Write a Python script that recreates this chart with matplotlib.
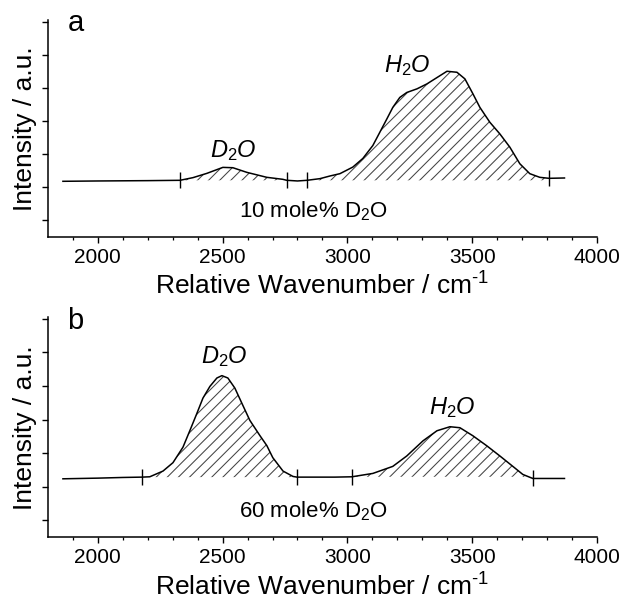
import matplotlib
matplotlib.use("Agg")
import matplotlib.pyplot as plt
import numpy as np

plt.rcParams['font.family'] = ['Liberation Sans', 'DejaVu Sans']
plt.rcParams['mathtext.fontset'] = 'custom'
plt.rcParams['mathtext.rm'] = 'Liberation Sans'
plt.rcParams['mathtext.it'] = 'Liberation Sans:italic'
plt.rcParams['hatch.linewidth'] = 0.75

# panel a: 10 mole% D2O
wn_a = [1860, 2000, 2200, 2329, 2381, 2437, 2501, 2541, 2597, 2677, 2741, 2757,
        2800, 2838, 2890, 2930, 2970, 3022, 3062, 3102, 3130, 3158, 3182, 3210,
        3238, 3279, 3319, 3359, 3399, 3439, 3471, 3503, 3531, 3571, 3611, 3651,
        3691, 3731, 3771, 3808, 3870]
int_a = [1.68, 1.69, 1.70, 1.71, 1.79, 1.92, 2.10, 2.09, 1.95, 1.80, 1.74, 1.71,
         1.69, 1.71, 1.76, 1.84, 1.91, 2.11, 2.37, 2.76, 3.16, 3.56, 3.91, 4.21,
         4.36, 4.47, 4.62, 4.81, 5.00, 4.97, 4.77, 4.32, 3.91, 3.46, 3.11, 2.71,
         2.21, 1.91, 1.80, 1.77, 1.78]
limits_a = [(2329, 2757), (2838, 3808)]

# panel b: 60 mole% D2O
wn_b = [1860, 2000, 2100, 2176, 2208, 2261, 2301, 2341, 2369, 2397, 2421, 2449,
        2477, 2497, 2521, 2549, 2577, 2609, 2649, 2677, 2701, 2742, 2782, 2798,
        2850, 2950, 3018, 3102, 3182, 3238, 3303, 3359, 3411, 3451, 3503, 3559,
        3611, 3663, 3703, 3743, 3812, 3870]
int_b = [1.74, 1.76, 1.78, 1.79, 1.80, 1.97, 2.22, 2.68, 3.18, 3.69, 4.14, 4.49,
         4.74, 4.81, 4.74, 4.44, 3.99, 3.48, 3.03, 2.73, 2.37, 1.97, 1.81, 1.79,
         1.79, 1.79, 1.80, 1.90, 2.11, 2.42, 2.87, 3.17, 3.29, 3.26, 3.02, 2.72,
         2.42, 2.11, 1.87, 1.75, 1.75, 1.75]
limits_b = [(2176, 2798), (3018, 3743)]

panels = [
    dict(wn=wn_a, y=int_a, limits=limits_a, tag='a', note='10 mole% D$_2$O',
         peaks=[('$D_2O$', 2541, 2.61), ('$H_2O$', 3242, 5.17)]),
    dict(wn=wn_b, y=int_b, limits=limits_b, tag='b', note='60 mole% D$_2$O',
         peaks=[('$D_2O$', 2505, 5.38), ('$H_2O$', 3419, 3.87)]),
]

fig = plt.figure(figsize=(6.31, 6.03), dpi=100)
ax_a = fig.add_axes([0.076, 0.607, 0.870, 0.360])
ax_b = fig.add_axes([0.076, 0.109, 0.870, 0.365])

for ax, p in zip([ax_a, ax_b], panels):
    w = np.array(p['wn'])
    y = np.array(p['y'])
    ax.plot(w, y, color='black', lw=1.1)
    # hatched integration areas with limit markers
    for lo, hi in p['limits']:
        m = (w >= lo) & (w <= hi)
        base = y[w == lo][0]
        ax.fill_between(w[m], y[m], base, facecolor='none', edgecolor='#444444',
                        hatch='///', linewidth=0)
        ax.plot([lo, hi], [y[w == lo][0], y[w == hi][0]], ls='none', marker='|',
                ms=12, mew=1.0, color='black')
    for txt, px, py in p['peaks']:
        ax.text(px, py, txt, fontsize=17, ha='center', va='center')
    ax.text(2862, 0.77, p['note'], fontsize=16, ha='center', va='center')
    ax.text(1910, 6.45, p['tag'], fontsize=21, ha='center', va='center')

    ax.set_xlim(1800, 4000)
    ax.set_ylim(0, 6.55)
    ax.set_xticks([2000, 2500, 3000, 3500, 4000])
    ax.set_xticks(np.arange(1900, 4000, 100), minor=True)
    ax.set_yticks(np.arange(0.5, 6.6, 1.0))
    ax.set_yticklabels([])
    ax.spines['top'].set_visible(False)
    ax.spines['right'].set_visible(False)
    for s in ['left', 'bottom']:
        ax.spines[s].set_linewidth(1.1)
    ax.tick_params(axis='both', which='major', length=4, width=1.0, labelsize=15, pad=4)
    ax.tick_params(axis='x', which='minor', length=2.5, width=0.9)
    ax.set_xlabel(r'Relative Wavenumber / cm$^{\text{-1}}$', fontsize=19, labelpad=4)
    ax.set_ylabel('Intensity / a.u.', fontsize=19, labelpad=0)

fig.savefig('out.png', dpi=100)
